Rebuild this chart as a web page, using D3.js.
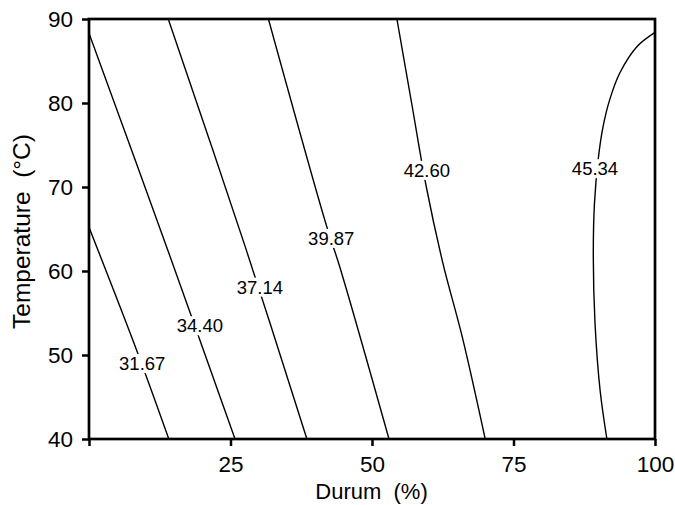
<!DOCTYPE html>
<html>
<head>
<meta charset="utf-8">
<script src="https://cdn.jsdelivr.net/npm/d3@7"></script>
<style>
  body { margin: 0; background: #fff; }
  svg { font-family: "Liberation Sans", Arial, Helvetica, sans-serif; }
</style>
</head>
<body>
<div id="chart"></div>
<script>
// Contour Plot: Durum (%) vs Temperature (°C)

// Tick Values For Both Axes
const durumTicks = [0, 25, 50, 75, 100];
const tempTicks = [40, 50, 60, 70, 80, 90];

// Contour Levels (Label Text)
const contourLevels = ["31.67", "34.40", "37.14", "39.87", "42.60", "45.34"];

// Contour Lines As [durum, temperature] Points
const line3167 = [[0, 65.2], [8.4, 50.6], [14.1, 40]];
const line3440 = [[0, 88.3], [13.7, 62.9], [25.8, 40]];
const line3714 = [[14.0, 90], [27.6, 62.9], [38.5, 40]];
const line3987 = [[31.7, 90], [42.0, 65.3], [44.3, 60.5], [53.0, 40]];
const line4260 = [[54.4, 90], [57.0, 80], [59.6, 70], [62.5, 61], [66.0, 52], [70.0, 40]];
const line4534 = [[100, 88.4], [96.8, 86.7], [93.8, 83.6], [92.0, 80.4], [90.8, 77.1], [90.0, 73.5],
                  [89.3, 68.0], [89.1, 61.7], [89.4, 53.8], [90.3, 45.8], [91.5, 40]];

// Label Positions As [durum, temperature]
const labelPositions = [[9.4, 49.0], [19.6, 53.5], [30.2, 58.1], [42.8, 63.9], [59.7, 72.0], [89.4, 72.2]];

// Dimensions and Margins For Chart
const margin = {top: 19, right: 20, bottom: 66, left: 89},
      width = 675 - margin.left - margin.right,
      height = 505 - margin.top - margin.bottom;

const svg = d3.select("#chart")
  .append("svg")
    .attr("width", width + margin.left + margin.right)
    .attr("height", height + margin.top + margin.bottom)
  .append("g")
    .attr("transform", `translate(${margin.left},${margin.top})`);

// Scales
const x = d3.scaleLinear().domain([0, 100]).range([0, width]);
const y = d3.scaleLinear().domain([40, 90]).range([height, 0]);

// Clip Path So Lines Stay In Plot
svg.append("clipPath").attr("id", "clip")
  .append("rect").attr("width", width).attr("height", height);

// Contour Lines
const lineGen = d3.line()
  .x(d => x(d[0]))
  .y(d => y(d[1]))
  .curve(d3.curveCatmullRom);

const allLines = [line3167, line3440, line3714, line3987, line4260, line4534];

svg.append("g")
  .attr("clip-path", "url(#clip)")
  .selectAll("path")
  .data(allLines)
  .join("path")
    .attr("d", lineGen)
    .attr("fill", "none")
    .attr("stroke", "#000")
    .attr("stroke-width", 1.4);

// Contour Labels With White Box Behind (breaks the line)
const labels = svg.append("g")
  .selectAll("g")
  .data(contourLevels)
  .join("g")
    .attr("transform", (d, i) => `translate(${x(labelPositions[i][0])},${y(labelPositions[i][1])})`);

labels.append("rect").attr("fill", "#fff");
labels.append("text")
  .attr("text-anchor", "middle")
  .attr("dy", "0.36em")
  .style("font-size", "18.5px")
  .text(d => d);

labels.each(function() {
  const g = d3.select(this);
  const bb = g.select("text").node().getBBox();
  g.select("rect")
    .attr("x", bb.x - 1)
    .attr("y", bb.y + 1)
    .attr("width", bb.width + 2)
    .attr("height", bb.height - 2);
});

// X-Axis
const xAxis = svg.append("g")
  .attr("transform", `translate(0,${height})`)
  .call(d3.axisBottom(x)
    .tickValues(durumTicks)
    .tickFormat(d => d === 0 ? "" : d)
    .tickSize(7)
    .tickPadding(10));

// Y-Axis
const yAxis = svg.append("g")
  .call(d3.axisLeft(y)
    .tickValues(tempTicks)
    .tickSize(7)
    .tickPadding(9));

[xAxis, yAxis].forEach(ax => {
  ax.select(".domain").remove();
  ax.selectAll("line").attr("stroke", "#000").attr("stroke-width", 2.5);
  ax.selectAll("text")
    .attr("fill", "#000")
    .style("font-size", "22.5px")
    .style("font-family", "'Liberation Sans', Arial, Helvetica, sans-serif");
});

// Frame Around Plot
svg.append("rect")
  .attr("width", width)
  .attr("height", height)
  .attr("fill", "none")
  .attr("stroke", "#000")
  .attr("stroke-width", 2.7);

// Axis Titles
svg.append("text")
  .attr("x", 371.5 - margin.left)
  .attr("y", height + 60)
  .attr("text-anchor", "middle")
  .style("font-size", "22px")
  .style("white-space", "pre")
  .text("Durum  (%)");

svg.append("text")
  .attr("transform", `translate(${30 - margin.left},${231.5 - margin.top}) rotate(-90)`)
  .attr("text-anchor", "middle")
  .style("font-size", "24.5px")
  .style("white-space", "pre")
  .text("Temperature  (°C)");
</script>
</body>
</html>
